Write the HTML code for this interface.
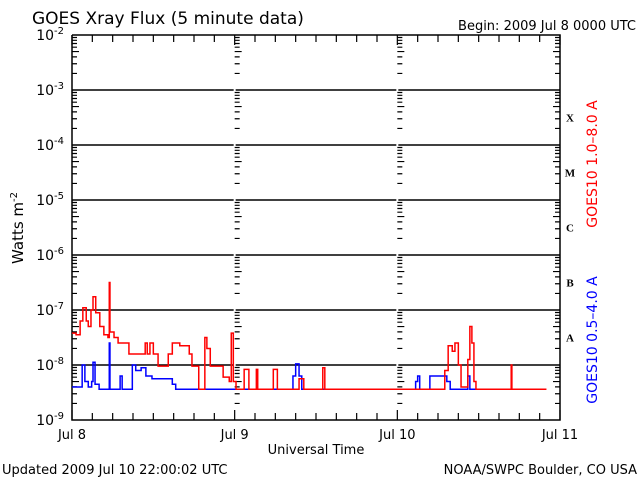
<!DOCTYPE html>
<html><head><meta charset="utf-8"><style>
body{margin:0;background:#fff;width:640px;height:480px;overflow:hidden}
svg{display:block;font-family:"DejaVu Sans","Liberation Sans",sans-serif}
</style></head><body>
<svg id="chart" width="640" height="480" viewBox="0 0 640 480">
<rect width="640" height="480" fill="#fff"/>
<text x="32" y="24" font-size="17" fill="#000">GOES Xray Flux (5 minute data)</text>
<text x="636" y="30" font-size="13" text-anchor="end" fill="#000">Begin:  2009 Jul 8 0000 UTC</text>
<text x="316" y="454" font-size="13" text-anchor="middle" fill="#000">Universal Time</text>
<text x="2" y="474" font-size="13" fill="#000">Updated 2009 Jul 10 22:00:02 UTC</text>
<text x="637" y="474" font-size="13" text-anchor="end" fill="#000">NOAA/SWPC Boulder, CO USA</text>
<text transform="translate(23,228) rotate(-90)" font-size="15" text-anchor="middle" fill="#000">Watts m<tspan dy="-6" font-size="10">-2</tspan></text>
<text transform="translate(597,164) rotate(-90)" font-size="14" text-anchor="middle" fill="#f00">GOES10 1.0–8.0 A</text>
<text transform="translate(597,340) rotate(-90)" font-size="14" text-anchor="middle" fill="#00f">GOES10 0.5–4.0 A</text>
<g id="axes"></g>
<g id="series"></g>
</svg>
<script>
const dayLabels=["Jul 8","Jul 9","Jul 10","Jul 11"];
const decadeExps=[-2,-3,-4,-5,-6,-7,-8,-9];
const classLetters=["X","M","C","B","A"];
const classExps=[-4,-5,-6,-7,-8];
const redHours=[0,0.6,1.2,1.6,2.1,2.4,2.8,3.1,3.5,4.1,4.7,5.3,5.5,5.6,6.2,6.8,8.1,8.4,10.5,10.8,11.1,11.5,12.0,12.5,12.7,13.7,14.2,14.8,15.9,17.0,17.3,17.7,18.4,18.7,19.3,19.6,19.9,20.4,21.8,22.3,23.2,23.5,23.8,24.2,25.2,25.4,26.0,26.1,27.0,27.2,27.4,29.5,29.7,30.1,30.3,33.2,33.5,34.1,34.2,36.9,37.0,37.3,54.9,55.0,55.5,56.1,56.5,57.0,57.4,58.1,58.4,58.7,59.0,59.3,59.6,64.6,64.8,64.9,70.0];
const redLog=[-7.42,-7.45,-7.2,-6.96,-7.2,-7.3,-7.0,-6.76,-7.05,-7.3,-7.45,-7.5,-6.5,-7.4,-7.5,-7.6,-7.6,-7.8,-7.8,-7.6,-7.8,-7.6,-7.8,-7.8,-8.02,-8.02,-7.8,-7.6,-7.65,-7.65,-7.8,-8.02,-8.02,-8.44,-8.44,-7.5,-7.7,-8.02,-8.02,-8.22,-8.3,-7.42,-8.3,-8.44,-8.44,-8.08,-8.08,-8.44,-8.44,-8.08,-8.44,-8.44,-8.08,-8.08,-8.44,-8.44,-8.25,-8.25,-8.44,-8.44,-8.05,-8.44,-8.44,-8.1,-7.65,-7.75,-7.6,-8.0,-8.4,-8.4,-7.9,-7.3,-7.6,-8.3,-8.44,-8.44,-8.0,-8.44,-8.44];
const blueHours=[0,1.2,1.5,1.9,2.4,2.9,3.1,3.4,4.0,5.3,5.5,5.6,6.9,7.1,7.4,8.6,8.9,9.4,10.2,10.9,11.8,14.5,14.8,15.3,32.2,32.6,33.0,33.5,33.9,45.9,null,49.9,50.7,51.0,51.3,52.5,52.8,54.9,55.3,55.8,58.1,58.4,58.7,69.3];
const blueLog=[-8.4,-8.4,-8.0,-8.3,-8.4,-8.3,-7.95,-8.35,-8.44,-8.44,-7.6,-8.44,-8.44,-8.2,-8.44,-8.44,-8.0,-8.1,-8.05,-8.2,-8.25,-8.25,-8.35,-8.44,-8.44,-8.2,-7.98,-8.2,-8.44,-8.44,null,-8.44,-8.3,-8.2,-8.44,-8.44,-8.2,-8.2,-8.3,-8.44,-8.44,-8.2,-8.44,-8.44];

const X0=72,X1=560,Y0=35,Y1=420;
function xs(h){return X0+(X1-X0)*h/72;}
function ys(l){return Y1-(l+9)*(Y1-Y0)/7;}
const NS="http://www.w3.org/2000/svg";
const axes=document.getElementById('axes'),series=document.getElementById('series');
function mk(tag,attrs,parent){const e=document.createElementNS(NS,tag);for(const k in attrs)e.setAttribute(k,attrs[k]);parent.appendChild(e);return e;}
let d="";
decadeExps.forEach(function(e){
  const y=ys(e);
  if(e>-9&&e<-2){
    const l=mk('path',{d:`M${X0} ${y}H${xs(24)-1}M${xs(24)+1} ${y}H${xs(48)-1}M${xs(48)+1} ${y}H${X1}`,stroke:'#000','stroke-width':1.5,fill:'none'},axes);
    
    
  }
  const t=mk('text',{x:X0-8,y:y+5,'font-size':14,'text-anchor':'end',fill:'#000'},axes);
  
  
  t.innerHTML='10<tspan dy="-6" font-size="10">'+e+'</tspan>';
});
const dayXs=[xs(0),xs(24),xs(48),xs(72)];
for(let e=-9;e<-2;e++){
  for(let m=2;m<=9;m++){
    const y=ys(e+Math.log10(m));
    const L=m==5?7:5;
    dayXs.forEach(function(x,i){
      if(i==0) d+=`M${x} ${y}h${L}`;
      else if(i==3) d+=`M${x} ${y}h${-L}`;
      else d+=`M${x} ${y}h${L}`;
    });
  }
}
for(let h=3;h<72;h+=3){
  if(h%24==0) continue;
  const x=xs(h);
  d+=`M${x} ${Y1}v-7M${x} ${Y0}v7`;
}
dayXs.forEach(function(x){d+=`M${x} ${Y1}v-10M${x} ${Y0}v10`;});
const tk=mk('path',{d:d,stroke:'#000','stroke-width':1.2,fill:'none'},axes);


const fr=mk('path',{d:`M${X0} ${Y0}V${Y1}H${X1}V${Y0}H${X0}`,stroke:'#000','stroke-width':1.5,fill:'none'},axes);


dayLabels.forEach(function(s,i){
  const t=mk('text',{x:xs(i*24),y:439,'font-size':13,'text-anchor':'middle',fill:'#000'},axes);
  
  
  t.textContent=s;
});
classLetters.forEach(function(s,i){
  const t=mk('text',{x:570,y:ys(classExps[i]+0.5)+4,'font-size':11,'font-weight':'bold','text-anchor':'middle','font-family':'Liberation Serif, serif',fill:'#000'},axes);
  
  
  t.textContent=s;
});
function stepPath(hs,ls){
  let p="",started=false;
  for(let i=0;i<hs.length;i++){
    if(hs[i]===null){started=false;continue;}
    const x=xs(hs[i]),y=ys(ls[i]);
    if(!started){p+=`M${x} ${y}`;started=true;}
    else p+=`H${x}V${y}`;
  }
  return p;
}
const b=mk('path',{d:stepPath(blueHours,blueLog),stroke:'#0000ff','stroke-width':1.5,fill:'none'},series);


const r=mk('path',{d:stepPath(redHours,redLog),stroke:'#ff0000','stroke-width':1.5,fill:'none'},series);


</script>
</body></html>
